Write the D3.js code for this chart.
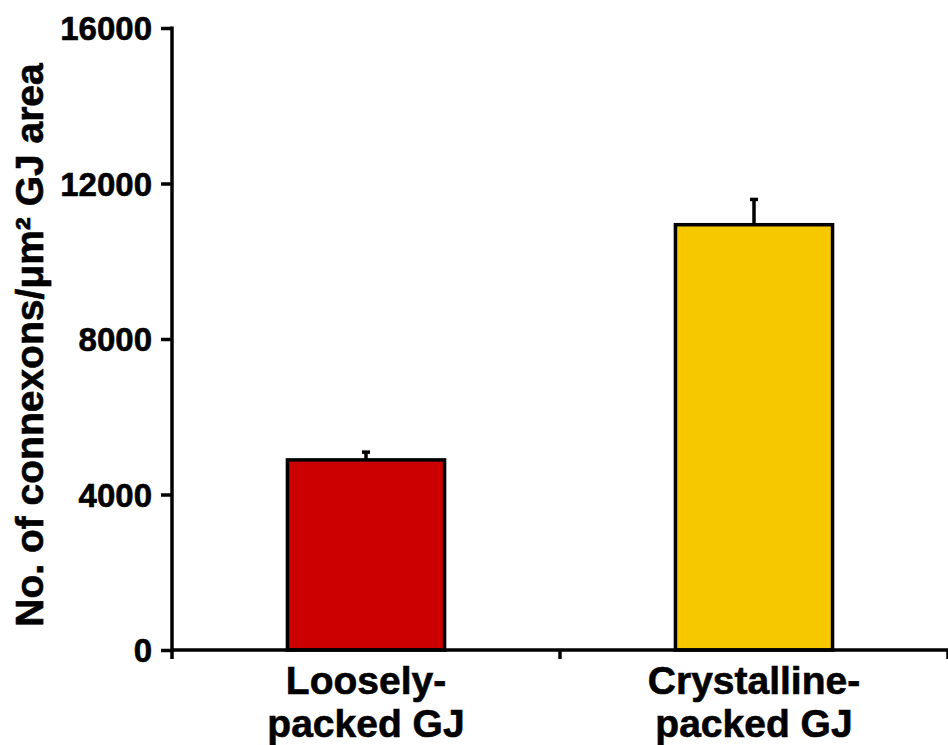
<!DOCTYPE html>
<html>
<head>
<meta charset="utf-8">
<script src="https://cdn.jsdelivr.net/npm/d3@7"></script>
<style>
  body { margin: 0; background: #fff; }
  svg { display: block; }
  text { font-family: "Liberation Sans", Arial, sans-serif; font-weight: bold; fill: #000; stroke: #000; stroke-width: 0.6px; }
</style>
</head>
<body>
<svg id="chart" width="948" height="745"></svg>
<script>
// ---- data ----
const categories = ["Loosely-packed GJ", "Crystalline-packed GJ"];
const labelLines = [["Loosely-", "packed GJ"], ["Crystalline-", "packed GJ"]];
const values = [4890, 10940];
const errors = [200, 650];
const colors = ["#cc0000", "#f5c800"];
const yTicks = [0, 4000, 8000, 12000, 16000];
const yTitle = "No. of connexons/\u03bcm\u00b2 GJ area";

// ---- layout ----
const svg = d3.select("#chart");
const plotL = 172, plotR = 948, plotT = 28, plotB = 650;

const x = d3.scaleBand().domain(categories).range([plotL, plotR]).padding(0);
const y = d3.scaleLinear().domain([0, 16000]).range([plotB, plotT]);
const barW = x.bandwidth() * 0.405;

// bars
svg.selectAll("rect.bar").data(categories).enter().append("rect")
  .attr("class", "bar")
  .attr("x", d => x(d) + (x.bandwidth() - barW) / 2)
  .attr("width", barW)
  .attr("y", (d, i) => y(values[i]))
  .attr("height", (d, i) => y(0) - y(values[i]))
  .attr("fill", (d, i) => colors[i])
  .attr("stroke", "#000")
  .attr("stroke-width", 3.5);

// error bars
const eb = svg.selectAll("g.err").data(categories).enter().append("g").attr("class", "err");
eb.append("line")
  .attr("x1", d => x(d) + x.bandwidth() / 2)
  .attr("x2", d => x(d) + x.bandwidth() / 2)
  .attr("y1", (d, i) => y(values[i]))
  .attr("y2", (d, i) => y(values[i] + errors[i]))
  .attr("stroke", "#000").attr("stroke-width", 3.5);
eb.append("line")
  .attr("x1", d => x(d) + x.bandwidth() / 2 - 4)
  .attr("x2", d => x(d) + x.bandwidth() / 2 + 4)
  .attr("y1", (d, i) => y(values[i] + errors[i]))
  .attr("y2", (d, i) => y(values[i] + errors[i]))
  .attr("stroke", "#000").attr("stroke-width", 3.5);

// y axis
const yAxis = d3.axisLeft(y).tickValues(yTicks).tickFormat(d3.format("d"))
  .tickSize(11).tickSizeOuter(0).tickPadding(9);
const gy = svg.append("g").attr("transform", `translate(${plotL},0)`).call(yAxis);
gy.select(".domain").attr("stroke-width", 3.5).attr("d", `M0,${plotT - 1.5}V${plotB + 1.5}`);
gy.selectAll(".tick line").attr("stroke-width", 3.5);
gy.selectAll(".tick text").style("font-size", "33px").style("font-weight", "bold")
  .style("font-family", "'Liberation Sans', Arial, sans-serif").attr("dy", "0.36em");

// x axis
const bounds = categories.map(c => x(c)).concat([x(categories[categories.length - 1]) + x.bandwidth()]);
svg.append("line").attr("x1", plotL).attr("x2", plotR).attr("y1", plotB).attr("y2", plotB)
  .attr("stroke", "#000").attr("stroke-width", 3.5);
svg.selectAll("line.xtick").data(bounds).enter().append("line")
  .attr("class", "xtick")
  .attr("x1", d => d).attr("x2", d => d)
  .attr("y1", plotB).attr("y2", plotB + 9)
  .attr("stroke", "#000").attr("stroke-width", 3.5);

// x labels
categories.forEach((c, i) => {
  const t = svg.append("text")
    .attr("x", x(c) + x.bandwidth() / 2)
    .attr("y", 694)
    .attr("text-anchor", "middle")
    .style("font-size", "39px");
  labelLines[i].forEach((ln, j) => {
    t.append("tspan").attr("x", x(c) + x.bandwidth() / 2).attr("dy", j === 0 ? 0 : 43).text(ln);
  });
});

// y title
svg.append("text")
  .attr("transform", `translate(43,${(62 + 628) / 2}) rotate(-90)`)
  .attr("text-anchor", "middle")
  .style("font-size", "39px")
  .text(yTitle);
</script>
</body>
</html>
